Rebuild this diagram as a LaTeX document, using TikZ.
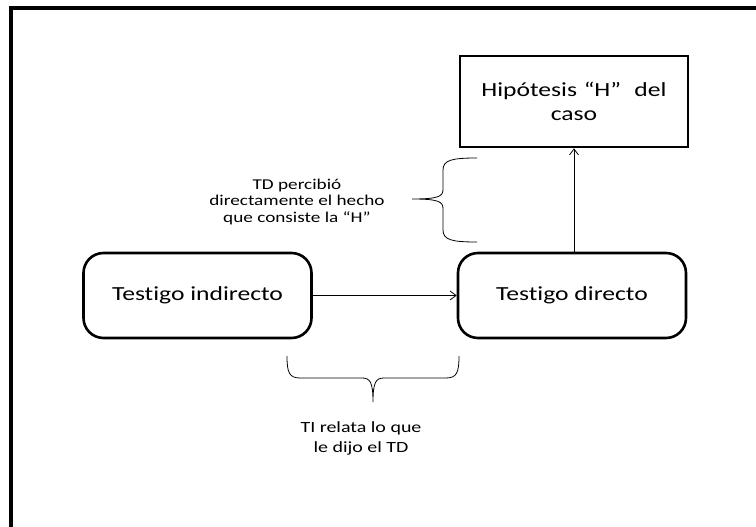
\documentclass[tikz,border=0pt]{standalone}
\usepackage{fontspec}
\usetikzlibrary{arrows.meta}
\setmainfont{Carlito}
\newfontfamily\widefont[FakeStretch=1.28,Ligatures=NoCommon]{Carlito}
\begin{document}
\begin{tikzpicture}[x=1pt,y=-1pt,
  box/.style={draw,line width=2.6pt,minimum width=228pt,minimum height=85pt,inner sep=0pt,font=\widefont\fontsize{20}{24}\selectfont},
  roundbox/.style={box,rounded corners=20pt},
  link/.style={line width=0.8pt,-{Straight Barb[length=6pt,width=9pt]}},
  brace/.style={line width=0.8pt},
  note/.style={align=center,inner sep=0pt}]
\useasboundingbox (0,0) rectangle (756,527);
% frame
\draw[line width=4pt] (11,527) -- (11,8) -- (756,8);

% boxes
\node[box,minimum height=91pt,text width=215pt,align=center] (hyp) at (574,101.5) {Hipótesis “H”\ \ del\\caso};
\node[roundbox] (ti) at (197.5,295.5) {Testigo indirecto};
\node[roundbox] (td) at (572,295.5) {Testigo directo};

% connectors
\draw[link] (ti.east) -- (td.west);
\draw[link] (td.north -| hyp.south) -- (hyp.south);

% right-hand brace
\coordinate (vtip) at (412,199);
\draw[brace] (477,158) .. controls (452,158) and (443,160) .. (443,170)
  -- (443,189) .. controls (443,196) and (440,199) .. (vtip)
  (vtip) .. controls (440,199) and (443,202) .. (443,209)
  -- (443,230) .. controls (443,240) and (452,242) .. (477,242);
\node[note,font=\widefont\fontsize{15}{17}\selectfont] (tdnote) at (297,202)
  {TD percibió\\directamente el hecho\\que consiste la “H”};

% lower brace
\coordinate (htip) at (373,402);
\draw[brace] (287,356) .. controls (287,372) and (289,378) .. (300,378)
  -- (362,378) .. controls (370,378) and (373,382) .. (htip)
  (htip) .. controls (373,382) and (376,378) .. (384,378)
  -- (446,378) .. controls (457,378) and (459,372) .. (459,356);
\node[note,font=\widefont\fontsize{15.6}{20}\selectfont] (tinote) at (361,438)
  {TI relata lo que\\le dijo el TD};
\end{tikzpicture}
\end{document}
